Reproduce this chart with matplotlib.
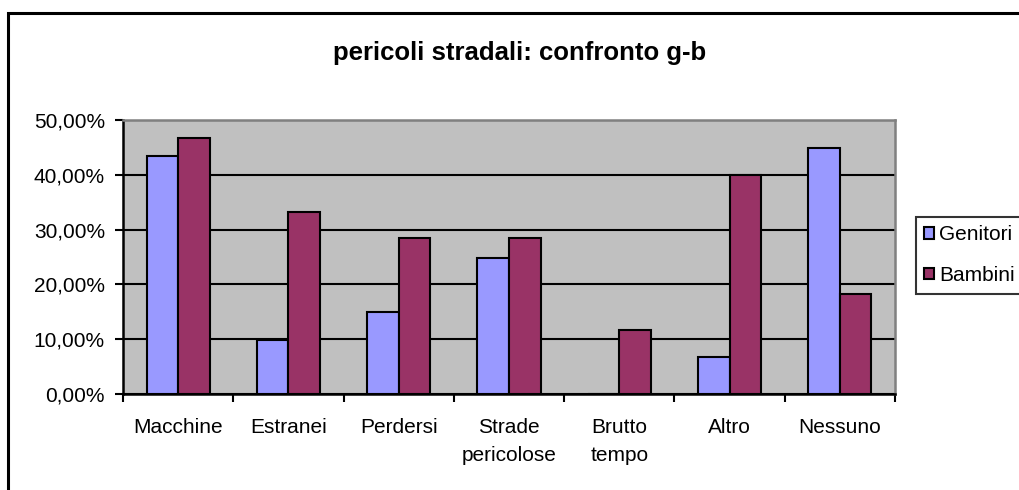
import numpy as np
import matplotlib
matplotlib.use("Agg")
import matplotlib.pyplot as plt
from matplotlib.patches import Rectangle
from matplotlib.ticker import FixedLocator, FuncFormatter

plt.rcParams['font.family'] = ['Liberation Sans', 'DejaVu Sans']

# data (percent)
categorie = ["Macchine", "Estranei", "Perdersi", "Strade\npericolose",
             "Brutto\ntempo", "Altro", "Nessuno"]
genitori = [43.4, 9.9, 15.0, 24.8, 0.0, 6.7, 44.9]
bambini = [46.8, 33.2, 28.4, 28.4, 11.7, 40.0, 18.3]

fig = plt.figure(figsize=(10.19, 4.9), dpi=100)
fig.patch.set_facecolor("white")

# outer chart frame (cut at right/bottom edge)
fig.patches.append(Rectangle((8 / 1019, -0.1), 1.2, (490 - 13) / 490 + 0.1,
                             transform=fig.transFigure, fill=False,
                             edgecolor="black", linewidth=2.2))

ax = fig.add_axes([123 / 1019, (490 - 394) / 490, (895 - 123) / 1019, (394 - 120) / 490])
ax.set_facecolor("#C0C0C0")

x = np.arange(len(categorie))
w = 1 / 3.5
ax.bar(x - w / 2, genitori, w, color="#9999FF", edgecolor="black", linewidth=1.5,
       label="Genitori", zorder=3)
ax.bar(x + w / 2, bambini, w, color="#993366", edgecolor="black", linewidth=1.5,
       label="Bambini", zorder=3)

ax.set_xlim(-0.5, len(categorie) - 0.5)
ax.set_ylim(0, 50)
ax.set_yticks(np.arange(0, 51, 10))
ax.yaxis.set_major_formatter(FuncFormatter(lambda v, p: ("%.2f%%" % v).replace(".", ",")))
ax.yaxis.grid(True, color="black", linewidth=1.5, zorder=1)
ax.set_axisbelow(True)

ax.xaxis.set_major_locator(FixedLocator(np.arange(-0.5, len(categorie))))
ax.xaxis.set_major_formatter(FuncFormatter(lambda v, p: ""))
ax.xaxis.set_minor_locator(FixedLocator(x))
ax.set_xticklabels(categorie, minor=True)
ax.tick_params(axis="x", which="minor", length=0, pad=17, labelsize=15)
ax.tick_params(axis="x", which="major", direction="out", length=6, width=1.5)
ax.tick_params(axis="y", direction="out", length=6, width=1.5, labelsize=15, pad=7)
for lab in ax.get_xticklabels(minor=True):
    lab.set_linespacing(1.65)
    lab.set_verticalalignment("top")

for s in ["left", "bottom"]:
    ax.spines[s].set_color("black")
    ax.spines[s].set_linewidth(1.8)
for s in ["top", "right"]:
    ax.spines[s].set_color("#808080")
    ax.spines[s].set_linewidth(1.8)

fig.text(520 / 1019, 1 - 53 / 490, "pericoli stradali: confronto g-b",
         ha="center", va="center", fontsize=18.5, fontweight="bold")

leg = fig.legend(loc="upper left", bbox_to_anchor=(916 / 1019, 1 - 217 / 490),
                 frameon=True, fancybox=False, fontsize=15, handlelength=0.45,
                 handleheight=0.45, handletextpad=0.25, borderpad=0.4,
                 labelspacing=1.05, borderaxespad=0)
leg.get_frame().set_edgecolor("black")
leg.get_frame().set_linewidth(1.5)

fig.savefig("out.png", dpi=100)
